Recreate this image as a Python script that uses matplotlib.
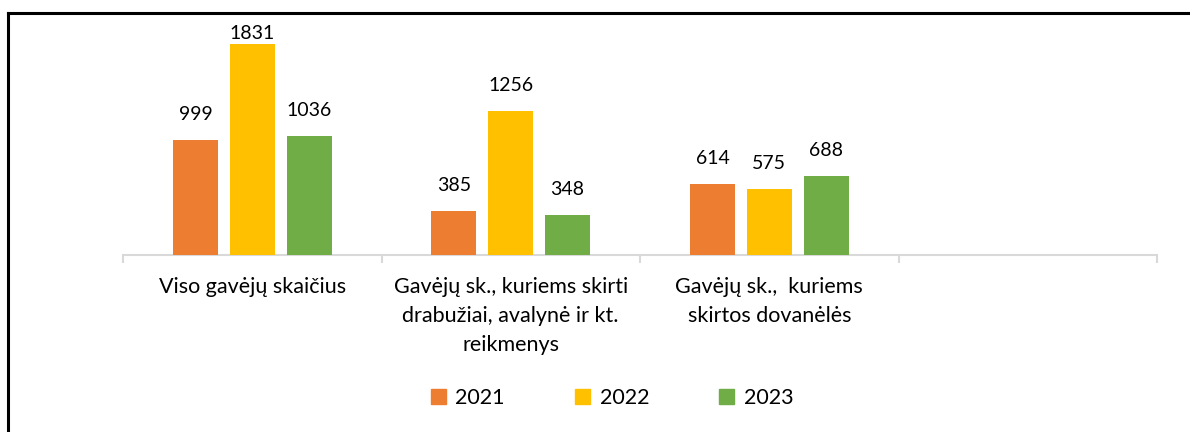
import matplotlib
matplotlib.use("Agg")
import matplotlib.pyplot as plt
import numpy as np
from matplotlib.lines import Line2D

categories = ["Viso gavėjų skaičius",
              "Gavėjų sk., kuriems skirti\ndrabužiai, avalynė ir kt.\nreikmenys",
              "Gavėjų sk.,  kuriems\nskirtos dovanėlės",
              ""]
years = ["2021", "2022", "2023"]
v2021 = [999, 385, 614]
v2022 = [1831, 1256, 575]
v2023 = [1036, 348, 688]
colors = ["#ED7D31", "#FFC000", "#70AD47"]

plt.rcParams['font.family'] = ['Lato', 'DejaVu Sans']

W, H = 1190, 432
fig = plt.figure(figsize=(W/100, H/100), dpi=100)
ax = fig.add_axes([123/W, 1-255/H, (1157-123)/W, (255-25)/H])

YMAX = 2000
ax.set_xlim(-0.5, len(categories)-0.5)
ax.set_ylim(0, YMAX)
px_per_unit = (255-25)/YMAX
gap = 17/px_per_unit      # gap between bar top and label
txt_h = 17/px_per_unit    # label height

series = [v2021, v2022, v2023]
width = 0.174
offs = [-0.22, 0.0, 0.22]
for s, vals in enumerate(series):
    x = np.arange(len(vals)) + offs[s]
    bars = ax.bar(x, vals, width=width, color=colors[s], label=years[s], zorder=3)
    for b, v in zip(bars, vals):
        ytxt = min(v + gap, YMAX - txt_h)
        ax.text(b.get_x()+b.get_width()/2, ytxt, str(v), ha="center", va="bottom",
                fontsize=14, color="#000000")

for sp in ["top", "right", "left"]:
    ax.spines[sp].set_visible(False)
ax.spines["bottom"].set_color("#d9d9d9")
ax.spines["bottom"].set_linewidth(1.5)
ax.set_yticks([])
ax.set_xticks(np.arange(len(categories)+1)-0.5)
ax.set_xticklabels([])
ax.tick_params(axis="x", length=6, width=1.5, color="#d9d9d9", direction="out")
for i, c in enumerate(categories):
    ax.text(i, -0.095, c, transform=ax.get_xaxis_transform(), ha="center", va="top",
            fontsize=15.5, linespacing=1.58, color="#000000")

handles = [plt.Rectangle((0, 0), 1, 1, color=c) for c in colors]
fig.legend(handles, years, loc="center", bbox_to_anchor=(612/W, 1-398/H),
           ncol=3, frameon=False, fontsize=15.5, handlelength=0.7, handleheight=0.7,
           columnspacing=3.25, handletextpad=0.45)

# outer frame (left and top visible)
fig.add_artist(Line2D([8/W, 8/W], [0, 1-13/H], transform=fig.transFigure, color="black", lw=2.2))
fig.add_artist(Line2D([8/W, 1], [1-13/H, 1-13/H], transform=fig.transFigure, color="black", lw=2.2))

fig.savefig("out.png", dpi=100)
